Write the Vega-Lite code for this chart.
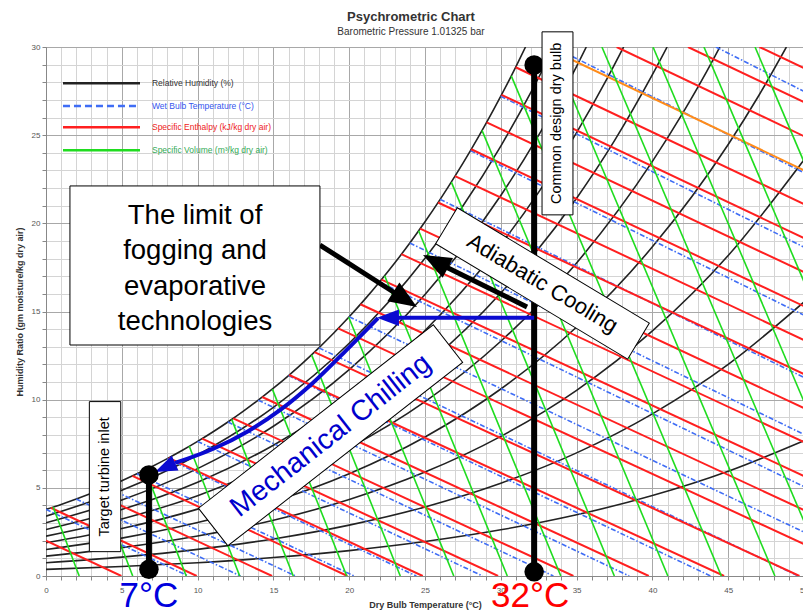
{
"$schema": "https://vega.github.io/schema/vega-lite/v6.json",
"width": 758, "height": 529,
"autosize": {"type": "none"},
"padding": {"left": 46, "top": 47, "right": 0, "bottom": 39},
"background": "white",
"title": {"text": "Psychrometric Chart", "subtitle": "Barometric Pressure 1.01325 bar", "anchor": "middle", "dx": -14, "dy": 14, "fontSize": 13, "font": "Liberation Sans", "fontWeight": "bold", "color": "#333", "subtitleFont": "Liberation Sans", "subtitleFontSize": 10, "subtitleColor": "#333", "subtitlePadding": 3, "offset": 8},
"config": {"view": {"stroke": "#888", "strokeWidth": 1}, "font": "Liberation Sans"},
"datasets": {
"rh": [
{"id":"10","T":0,"W":0.375},{"id":"10","T":5,"W":0.536},{"id":"10","T":10,"W":0.755},{"id":"10","T":15,"W":1.049},{"id":"10","T":20,"W":1.439},{"id":"10","T":25,"W":1.952},{"id":"10","T":30,"W":2.618},{"id":"10","T":35,"W":3.472},{"id":"10","T":40,"W":4.564},{"id":"10","T":45,"W":5.943},{"id":"10","T":50,"W":7.675},
{"id":"20","T":0,"W":0.751},{"id":"20","T":5,"W":1.073},{"id":"20","T":10,"W":1.511},{"id":"20","T":15,"W":2.101},{"id":"20","T":20,"W":2.885},{"id":"20","T":25,"W":3.916},{"id":"20","T":30,"W":5.258},{"id":"20","T":35,"W":6.982},{"id":"20","T":40,"W":9.196},{"id":"20","T":45,"W":12.001},{"id":"20","T":50,"W":15.541},
{"id":"30","T":0,"W":1.128},{"id":"30","T":5,"W":1.611},{"id":"30","T":10,"W":2.27},{"id":"30","T":15,"W":3.157},{"id":"30","T":20,"W":4.338},{"id":"30","T":25,"W":5.893},{"id":"30","T":30,"W":7.92},{"id":"30","T":35,"W":10.532},{"id":"30","T":40,"W":13.897},{"id":"30","T":45,"W":18.177},{"id":"30","T":50,"W":23.607},
{"id":"40","T":0,"W":1.504},{"id":"40","T":5,"W":2.15},{"id":"40","T":10,"W":3.03},{"id":"40","T":15,"W":4.217},{"id":"40","T":20,"W":5.797},{"id":"40","T":25,"W":7.882},{"id":"40","T":30,"W":10.605},{"id":"40","T":35,"W":14.122},{"id":"40","T":40,"W":18.669},{"id":"40","T":45,"W":24.474},{"id":"40","T":47,"W":27.22},{"id":"40","T":48.84,"W":30},
{"id":"50","T":0,"W":1.882},{"id":"50","T":5,"W":2.69},{"id":"50","T":10,"W":3.793},{"id":"50","T":15,"W":5.28},{"id":"50","T":20,"W":7.264},{"id":"50","T":25,"W":9.884},{"id":"50","T":30,"W":13.314},{"id":"50","T":35,"W":17.754},{"id":"50","T":40,"W":23.512},{"id":"50","T":42,"W":26.25},{"id":"50","T":44,"W":29.27},{"id":"50","T":44.45,"W":30},
{"id":"60","T":0,"W":2.26},{"id":"60","T":5,"W":3.231},{"id":"60","T":10,"W":4.557},{"id":"60","T":15,"W":6.346},{"id":"60","T":20,"W":8.737},{"id":"60","T":25,"W":11.898},{"id":"60","T":30,"W":16.045},{"id":"60","T":35,"W":21.427},{"id":"60","T":37.5,"W":24.69},{"id":"60","T":40,"W":28.429},{"id":"60","T":40.97,"W":30},
{"id":"70","T":0,"W":2.638},{"id":"70","T":5,"W":3.773},{"id":"70","T":10,"W":5.322},{"id":"70","T":15,"W":7.417},{"id":"70","T":20,"W":10.217},{"id":"70","T":25,"W":13.925},{"id":"70","T":30,"W":18.8},{"id":"70","T":32.5,"W":21.77},{"id":"70","T":35,"W":25.143},{"id":"70","T":37,"W":28.19},{"id":"70","T":38.1,"W":30},
{"id":"80","T":0,"W":3.017},{"id":"80","T":5,"W":4.315},{"id":"80","T":10,"W":6.091},{"id":"80","T":15,"W":8.491},{"id":"80","T":20,"W":11.704},{"id":"80","T":25,"W":15.966},{"id":"80","T":30,"W":21.579},{"id":"80","T":32.5,"W":25.0},{"id":"80","T":35,"W":28.901},{"id":"80","T":35.64,"W":30},
{"id":"90","T":0,"W":3.396},{"id":"90","T":5,"W":4.859},{"id":"90","T":10,"W":6.86},{"id":"90","T":15,"W":9.568},{"id":"90","T":20,"W":13.198},{"id":"90","T":25,"W":18.019},{"id":"90","T":27.5,"W":20.98},{"id":"90","T":30,"W":24.382},{"id":"90","T":32,"W":27.455},{"id":"90","T":33,"W":29.11},{"id":"90","T":33.51,"W":30},
{"id":"100","T":0,"W":3.775},{"id":"100","T":1,"W":4.06},{"id":"100","T":2,"W":4.364},{"id":"100","T":3,"W":4.686},{"id":"100","T":4,"W":5.029},{"id":"100","T":5,"W":5.403},{"id":"100","T":6,"W":5.796},{"id":"100","T":7,"W":6.213},{"id":"100","T":8,"W":6.657},{"id":"100","T":9,"W":7.129},{"id":"100","T":10,"W":7.632},{"id":"100","T":11,"W":8.165},{"id":"100","T":12,"W":8.732},{"id":"100","T":13,"W":9.334},{"id":"100","T":14,"W":9.972},{"id":"100","T":15,"W":10.65},{"id":"100","T":16,"W":11.369},{"id":"100","T":17,"W":12.131},{"id":"100","T":18,"W":12.938},{"id":"100","T":19,"W":13.793},{"id":"100","T":20,"W":14.699},{"id":"100","T":21,"W":15.658},{"id":"100","T":22,"W":16.673},{"id":"100","T":23,"W":17.748},{"id":"100","T":24,"W":18.884},{"id":"100","T":25,"W":20.086},{"id":"100","T":26,"W":21.358},{"id":"100","T":27,"W":22.702},{"id":"100","T":28,"W":24.122},{"id":"100","T":29,"W":25.623},{"id":"100","T":30,"W":27.21},{"id":"100","T":31,"W":28.885},{"id":"100","T":31.63,"W":30}
],
"wb": [
{"id":0,"T":0,"W":3.775},{"id":0,"T":9.39,"W":0},
{"id":2,"T":2,"W":4.364},{"id":2,"T":12.83,"W":0},
{"id":4,"T":4,"W":5.029},{"id":4,"T":16.46,"W":0},
{"id":6,"T":6,"W":5.796},{"id":6,"T":20.33,"W":0},
{"id":8,"T":8,"W":6.657},{"id":8,"T":24.43,"W":0},
{"id":10,"T":10,"W":7.632},{"id":10,"T":28.8,"W":0},
{"id":12,"T":12,"W":8.732},{"id":12,"T":33.47,"W":0},
{"id":14,"T":14,"W":9.972},{"id":14,"T":38.47,"W":0},
{"id":16,"T":16,"W":11.369},{"id":16,"T":43.84,"W":0},
{"id":18,"T":18,"W":12.938},{"id":18,"T":49.63,"W":0},
{"id":20,"T":20,"W":14.699},{"id":20,"T":50,"W":2.49},
{"id":22,"T":22,"W":16.673},{"id":22,"T":50,"W":5.07},
{"id":24,"T":24,"W":18.884},{"id":24,"T":50,"W":8.03},
{"id":26,"T":26,"W":21.358},{"id":26,"T":50,"W":11.26},
{"id":28,"T":28,"W":24.122},{"id":28,"T":50,"W":14.79},
{"id":30,"T":30,"W":27.21},{"id":30,"T":50,"W":18.65},
{"id":32,"T":33.48,"W":30},{"id":32,"T":50,"W":22.87},
{"id":34,"T":44.19,"W":30},{"id":34,"T":50,"W":27.48}
],
"h": [
{"id":5,"T":0,"W":2.0},{"id":5,"T":4.97,"W":0},
{"id":10,"T":0.32,"W":3.87},{"id":10,"T":9.94,"W":0},
{"id":15,"T":3.13,"W":4.73},{"id":15,"T":14.91,"W":0},
{"id":20,"T":5.7,"W":5.68},{"id":20,"T":19.88,"W":0},
{"id":25,"T":8.09,"W":6.7},{"id":25,"T":24.85,"W":0},
{"id":30,"T":10.3,"W":7.79},{"id":30,"T":29.82,"W":0},
{"id":35,"T":12.35,"W":8.94},{"id":35,"T":34.79,"W":0},
{"id":40,"T":14.26,"W":10.15},{"id":40,"T":39.76,"W":0},
{"id":45,"T":16.04,"W":11.4},{"id":45,"T":44.73,"W":0},
{"id":50,"T":17.71,"W":12.7},{"id":50,"T":49.7,"W":0},
{"id":55,"T":19.27,"W":14.04},{"id":55,"T":50,"W":1.81},
{"id":60,"T":20.74,"W":15.41},{"id":60,"T":50,"W":3.74},
{"id":65,"T":22.13,"W":16.81},{"id":65,"T":50,"W":5.67},
{"id":70,"T":23.44,"W":18.25},{"id":70,"T":50,"W":7.59},
{"id":75,"T":24.68,"W":19.7},{"id":75,"T":50,"W":9.52},
{"id":80,"T":25.86,"W":21.18},{"id":80,"T":50,"W":11.45},
{"id":85,"T":26.98,"W":22.68},{"id":85,"T":50,"W":13.38},
{"id":90,"T":28.05,"W":24.2},{"id":90,"T":50,"W":15.3},
{"id":95,"T":29.07,"W":25.73},{"id":95,"T":50,"W":17.23},
{"id":100,"T":30.05,"W":27.29},{"id":100,"T":50,"W":19.16},
{"id":105,"T":30.98,"W":28.85},{"id":105,"T":50,"W":21.09},
{"id":110,"T":32.93,"W":30},{"id":110,"T":50,"W":23.01},
{"id":115,"T":37.64,"W":30},{"id":115,"T":50,"W":24.94},
{"id":120,"T":42.35,"W":30},{"id":120,"T":50,"W":26.87},
{"id":125,"T":47.06,"W":30},{"id":125,"T":50,"W":28.8}
],
"v": [
{"id":0.78,"T":0.47,"W":3.91},{"id":0.78,"T":2.19,"W":0},
{"id":0.79,"T":3.55,"W":4.87},{"id":0.79,"T":5.72,"W":0},
{"id":0.80,"T":6.54,"W":6.02},{"id":0.80,"T":9.25,"W":0},
{"id":0.81,"T":9.45,"W":7.36},{"id":0.81,"T":12.78,"W":0},
{"id":0.82,"T":12.25,"W":8.88},{"id":0.82,"T":16.31,"W":0},
{"id":0.83,"T":14.93,"W":10.6},{"id":0.83,"T":19.84,"W":0},
{"id":0.84,"T":17.52,"W":12.54},{"id":0.84,"T":23.37,"W":0},
{"id":0.85,"T":19.97,"W":14.67},{"id":0.85,"T":26.9,"W":0},
{"id":0.86,"T":22.34,"W":17.03},{"id":0.86,"T":30.43,"W":0},
{"id":0.87,"T":24.58,"W":19.58},{"id":0.87,"T":33.96,"W":0},
{"id":0.88,"T":26.74,"W":22.34},{"id":0.88,"T":37.49,"W":0},
{"id":0.89,"T":28.76,"W":25.27},{"id":0.89,"T":41.02,"W":0},
{"id":0.90,"T":30.69,"W":28.36},{"id":0.90,"T":44.55,"W":0},
{"id":0.91,"T":33.3,"W":30},{"id":0.91,"T":48.08,"W":0},
{"id":0.92,"T":36.67,"W":30},{"id":0.92,"T":50,"W":3.1},
{"id":0.93,"T":40.04,"W":30},{"id":0.93,"T":50,"W":9.89},
{"id":0.94,"T":43.4,"W":30},{"id":0.94,"T":50,"W":16.69},
{"id":0.95,"T":46.77,"W":30},{"id":0.95,"T":50,"W":23.48}
],
"legend": [
{"item":"rh","T":1.12,"T2":6.2,"W":27.95},
{"item":"wb","T":1.12,"T2":6.2,"W":26.66},
{"item":"h","T":1.12,"T2":6.2,"W":25.45},
{"item":"v","T":1.12,"T2":6.2,"W":24.15}
],
"legendText": [
{"item":"rh","T":6.99,"W":27.95,"label":"Relative Humidity (%)"},
{"item":"wb","T":6.99,"W":26.66,"label":"Wet Bulb Temperature (°C)"},
{"item":"h","T":6.99,"W":25.45,"label":"Specific Enthalpy (kJ/kg dry air)"},
{"item":"v","T":6.99,"W":24.15,"label":"Specific Volume (m³/kg dry air)"}
],
"vlines": [
{"id":"design","T":32.2,"W":0.24,"W2":28.98},
{"id":"target","T":6.79,"W":0.38,"W2":5.73}
],
"dots": [
{"T":32.2,"W":28.98},{"T":32.2,"W":0.24},{"T":6.79,"W":5.73},{"T":6.79,"W":0.38}
],
"arrowsBlue": [
{"id":"h","T":32.2,"W":14.65},{"id":"h","T":23.15,"W":14.65},
{"id":"c","T":21.9,"W":14.63},{"id":"c","T":19.8,"W":12.8},{"id":"c","T":17.6,"W":10.95},{"id":"c","T":15.5,"W":9.45},{"id":"c","T":13.3,"W":8.2},{"id":"c","T":11.0,"W":7.2},{"id":"c","T":8.51,"W":6.41}
],
"arrowsBlack": [
{"id":"a","T":31.73,"W":15.26},{"id":"a","T":26.39,"W":17.53},
{"id":"l","T":18.07,"W":18.77},{"id":"l","T":23.02,"W":16.05}
],
"heads": [
{"key":"bh","T":21.83,"W":14.65},
{"key":"bc","T":7.19,"W":5.9},
{"key":"ka","T":24.87,"W":18.21},
{"key":"kl","T":24.47,"W":15.26}
],
"boxes": [
{"key":"limit","T":1.58,"T2":18.07,"W":22.12,"W2":13.1},
{"key":"common","T":32.72,"T2":34.76,"W":30.86,"W2":20.48},
{"key":"target","T":2.86,"T2":4.93,"W":9.89,"W2":1.38}
],
"texts": [
{"key":"limit","T":9.83,"W":20.42,"label":"The limit of\nfogging and\nevaporative\ntechnologies"},
{"key":"adiabatic","T":32.75,"W":16.59,"label":"Adiabatic Cooling"},
{"key":"mech","T":18.77,"W":7.98,"label":"Mechanical Chilling"},
{"key":"common","T":33.74,"W":25.67,"label":"Common design dry bulb"},
{"key":"target","T":3.89,"W":5.62,"label":"Target turbine inlet"},
{"key":"t7","T":6.79,"W":-1.76,"label":"7°C"},
{"key":"t32","T":31.93,"W":-1.76,"label":"32°C"}
]
},
"encoding": {
"x": {"field": "T", "type": "quantitative", "scale": {"domain": [0, 50], "nice": false, "zero": false},
 "axis": {"values": [0,1,2,3,4,5,6,7,8,9,10,11,12,13,14,15,16,17,18,19,20,21,22,23,24,25,26,27,28,29,30,31,32,33,34,35,36,37,38,39,40,41,42,43,44,45,46,47,48,49,50],
  "labelExpr": "datum.value % 5 === 0 ? datum.label : ''", "labelOverlap": false, "labelFlush": false,
  "grid": true, "gridColor": {"condition": {"test": "datum.value % 5 === 0", "value": "#a8a8a8"}, "value": "#d4d4d4"}, "gridWidth": 1,
  "tickColor": "#888", "tickSize": 4, "domainColor": "#888",
  "labelFont": "Liberation Sans", "labelFontSize": 8, "labelColor": "#555", "labelPadding": 6,
  "title": "Dry Bulb Temperature (°C)", "titleFont": "Liberation Sans", "titleFontSize": 9, "titleColor": "#333", "titleFontWeight": "bold", "titlePadding": 6}},
"y": {"field": "W", "type": "quantitative", "scale": {"domain": [0, 30], "nice": false, "zero": false},
 "axis": {"values": [0,1,2,3,4,5,6,7,8,9,10,11,12,13,14,15,16,17,18,19,20,21,22,23,24,25,26,27,28,29,30],
  "labelExpr": "datum.value % 5 === 0 ? datum.label : ''", "labelOverlap": false, "labelFlush": false,
  "grid": true, "gridColor": {"condition": {"test": "datum.value % 5 === 0", "value": "#a8a8a8"}, "value": "#d4d4d4"}, "gridWidth": 1,
  "tickColor": "#888", "tickSize": 4, "domainColor": "#888",
  "labelFont": "Liberation Sans", "labelFontSize": 8, "labelColor": "#555", "labelPadding": 2,
  "title": "Humidity Ratio (gm moisture/kg dry air)", "titleFont": "Liberation Sans", "titleFontSize": 9, "titleColor": "#333", "titleFontWeight": "bold", "titlePadding": 7}}
},
"layer": [
{"data": {"name": "rh"}, "mark": {"type": "line", "color": "#222", "strokeWidth": 1.6, "interpolate": "monotone", "clip": true}, "encoding": {"detail": {"field": "id", "type": "nominal"}}},
{"data": {"name": "wb"}, "mark": {"type": "line", "color": "#3f6df5", "strokeWidth": 1.6, "strokeDash": [5, 2, 1.5, 2], "clip": true}, "encoding": {"detail": {"field": "id", "type": "nominal"}}},
{"data": {"name": "h"}, "transform": [{"filter": "datum.id !== 110"}], "mark": {"type": "line", "color": "#ff1f1f", "strokeWidth": 2, "clip": true}, "encoding": {"detail": {"field": "id", "type": "nominal"}}},
{"data": {"name": "h"}, "transform": [{"filter": "datum.id === 110"}], "mark": {"type": "line", "color": "#ff8c1a", "strokeWidth": 2, "clip": true}, "encoding": {"detail": {"field": "id", "type": "nominal"}}},
{"data": {"name": "v"}, "mark": {"type": "line", "color": "#1fdc1f", "strokeWidth": 1.6, "clip": true}, "encoding": {"detail": {"field": "id", "type": "nominal"}}},
{"data": {"name": "legend"}, "mark": {"type": "rule", "strokeWidth": 2.5},
 "encoding": {"x2": {"field": "T2"},
  "color": {"condition": [{"test": "datum.item === 'wb'", "value": "#3f6df5"}, {"test": "datum.item === 'h'", "value": "#ff1f1f"}, {"test": "datum.item === 'v'", "value": "#1fdc1f"}], "value": "#222"},
  "strokeDash": {"condition": {"test": "datum.item === 'wb'", "value": [7, 4]}, "value": [1, 0]}}},
{"data": {"name": "legendText"}, "mark": {"type": "text", "align": "left", "baseline": "middle", "fontSize": 8.5, "font": "Liberation Sans"},
 "encoding": {"text": {"field": "label"},
  "color": {"condition": [{"test": "datum.item === 'wb'", "value": "#3355ee"}, {"test": "datum.item === 'h'", "value": "#ee2222"}, {"test": "datum.item === 'v'", "value": "#33aa55"}], "value": "#333"}}},
{"data": {"name": "vlines"}, "mark": {"type": "rule", "color": "#000", "strokeWidth": 6}, "encoding": {"y2": {"field": "W2"}}},
{"data": {"name": "arrowsBlue"}, "mark": {"type": "line", "color": "#0a0ad0", "strokeWidth": 4, "interpolate": "monotone"}, "encoding": {"detail": {"field": "id", "type": "nominal"}}},
{"data": {"name": "arrowsBlack"}, "mark": {"type": "line", "color": "#000", "strokeWidth": 5}, "encoding": {"detail": {"field": "id", "type": "nominal"}}},
{"data": {"name": "heads"}, "transform": [{"filter": "datum.key === 'bh'"}], "mark": {"type": "point", "shape": "M0,0L2,-0.75L2,0.75Z", "size": 484, "angle": 0, "filled": true, "color": "#0a0ad0", "opacity": 1}},
{"data": {"name": "heads"}, "transform": [{"filter": "datum.key === 'bc'"}], "mark": {"type": "point", "shape": "M0,0L2,-0.75L2,0.75Z", "size": 484, "angle": -24, "filled": true, "color": "#0a0ad0", "opacity": 1}},
{"data": {"name": "heads"}, "transform": [{"filter": "datum.key === 'ka'"}], "mark": {"type": "point", "shape": "M0,0L2,-0.8L2,0.8Z", "size": 784, "angle": 27.5, "filled": true, "color": "#000", "opacity": 1}},
{"data": {"name": "heads"}, "transform": [{"filter": "datum.key === 'kl'"}], "mark": {"type": "point", "shape": "M0,0L2,-0.8L2,0.8Z", "size": 784, "angle": 212.6, "filled": true, "color": "#000", "opacity": 1}},
{"data": {"name": "dots"}, "mark": {"type": "point", "shape": "circle", "size": 380, "filled": true, "color": "#000", "opacity": 1}},
{"data": {"name": "boxes"}, "mark": {"type": "rect", "fill": "#fff", "stroke": "#000", "strokeWidth": 1}, "encoding": {"x2": {"field": "T2"}, "y2": {"field": "W2"}}},
{"data": {"name": "texts"}, "transform": [{"filter": "datum.key === 'adiabatic'"}], "mark": {"type": "point", "shape": "M-1,-0.1875H1V0.1875H-1Z", "size": 50176, "angle": 31, "filled": true, "fill": "#fff", "stroke": "#000", "strokeWidth": 1, "opacity": 1}},
{"data": {"name": "texts"}, "transform": [{"filter": "datum.key === 'mech'"}], "mark": {"type": "point", "shape": "M-1,-0.16H1V0.16H-1Z", "size": 88804, "angle": -38, "filled": true, "fill": "#fff", "stroke": "#000", "strokeWidth": 1, "opacity": 1}},
{"data": {"name": "texts"}, "transform": [{"filter": "datum.key === 'limit'"}], "mark": {"type": "text", "align": "center", "baseline": "middle", "fontSize": 27.5, "lineHeight": 35.5, "lineBreak": "\n", "font": "Liberation Sans", "color": "#000"}, "encoding": {"text": {"field": "label"}}},
{"data": {"name": "texts"}, "transform": [{"filter": "datum.key === 'adiabatic'"}], "mark": {"type": "text", "align": "center", "baseline": "middle", "fontSize": 22, "angle": 31, "font": "Liberation Sans", "color": "#000"}, "encoding": {"text": {"field": "label"}}},
{"data": {"name": "texts"}, "transform": [{"filter": "datum.key === 'mech'"}], "mark": {"type": "text", "align": "center", "baseline": "middle", "fontSize": 28.5, "angle": -38, "font": "Liberation Sans", "color": "#0000cc"}, "encoding": {"text": {"field": "label"}}},
{"data": {"name": "texts"}, "transform": [{"filter": "datum.key === 'common' || datum.key === 'target'"}], "mark": {"type": "text", "align": "center", "baseline": "middle", "fontSize": 14.5, "angle": -90, "font": "Liberation Sans", "color": "#000"}, "encoding": {"text": {"field": "label"}}},
{"data": {"name": "texts"}, "transform": [{"filter": "datum.key === 't7'"}], "mark": {"type": "text", "align": "center", "baseline": "alphabetic", "fontSize": 35, "font": "Liberation Sans", "color": "#0000dd"}, "encoding": {"text": {"field": "label"}}},
{"data": {"name": "texts"}, "transform": [{"filter": "datum.key === 't32'"}], "mark": {"type": "text", "align": "center", "baseline": "alphabetic", "fontSize": 35, "font": "Liberation Sans", "color": "#ff0000"}, "encoding": {"text": {"field": "label"}}}
]
}
